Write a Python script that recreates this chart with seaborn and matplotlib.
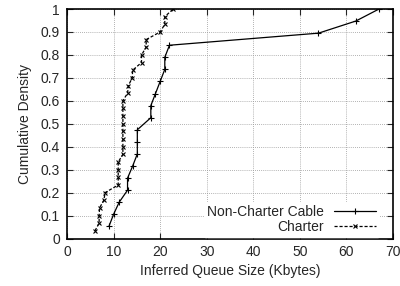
import numpy as np
import pandas as pd
import seaborn as sns
import matplotlib
matplotlib.use("Agg")
import matplotlib.pyplot as plt

# queue sizes (Kbytes), sorted
non_charter = [9.0, 10.0, 11.2, 13.0, 13.0, 14.1, 15.1, 15.1, 15.1, 18.0,
               18.0, 19.0, 20.0, 21.0, 21.0, 22.0, 54.0, 62.0, 67.0]
charter = [6.0, 6.9, 6.9, 7.0, 7.9, 8.2, 11.0, 11.0, 11.0, 11.0,
           12.0, 12.0, 12.0, 12.0, 12.0, 12.0, 12.0, 12.0, 13.0, 13.2,
           14.0, 14.1, 16.0, 16.0, 17.0, 17.0, 20.0, 21.0, 21.0, 22.8]

x_ticks = [0, 10, 20, 30, 40, 50, 60, 70]
y_ticks = [0, 0.1, 0.2, 0.3, 0.4, 0.5, 0.6, 0.7, 0.8, 0.9, 1]
y_labels = ["0", "0.1", "0.2", "0.3", "0.4", "0.5", "0.6", "0.7", "0.8", "0.9", "1"]


def cdf(vals):
    n = len(vals)
    return pd.DataFrame({"x": vals, "y": np.arange(1, n + 1) / n})


sns.set_style("ticks")
plt.rcParams['font.family'] = ['Liberation Sans', 'DejaVu Sans']
plt.rcParams['font.size'] = 10

fig = plt.figure(figsize=(4, 2.86), dpi=100)
ax = fig.add_axes([67 / 400, 1 - 238.5 / 286, 326 / 400, 229.5 / 286])

nc = cdf(non_charter)
ch = cdf(charter)
sns.lineplot(data=nc, x="x", y="y", estimator=None, sort=False, ax=ax,
             color="black", lw=0.9, marker="+", markersize=4, mew=0.8,
             mec="black", label="Non-Charter Cable")
sns.lineplot(data=ch, x="x", y="y", estimator=None, sort=False, ax=ax,
             color="black", lw=0.9, ls=(0, (2.5, 1.5)), marker="x",
             markersize=3.5, mew=0.8, mec="black", label="Charter")

ax.set_xlim(0, 70)
ax.set_ylim(0, 1)
ax.set_xticks(x_ticks)
ax.set_yticks(y_ticks)
ax.set_yticklabels(y_labels)
ax.grid(True, color="#999999", ls=(0, (1, 1.5)), lw=0.6)
ax.tick_params(direction="in", top=True, right=True, length=4, width=0.8,
               labelsize=10, pad=5)
for s in ax.spines.values():
    s.set_linewidth(1.2)
    s.set_color("black")

ax.set_xlabel("Inferred Queue Size (Kbytes)", fontsize=10, labelpad=3)
ax.set_ylabel("Cumulative Density", fontsize=10, labelpad=6)

leg = ax.legend(loc="lower right", bbox_to_anchor=(0.955, 0.008),
                markerfirst=False, frameon=True, fancybox=False,
                borderpad=0.2, handlelength=3.0, labelspacing=0.05,
                handletextpad=0.7, fontsize=10, borderaxespad=0)
leg.get_frame().set_edgecolor("white")
leg.get_frame().set_facecolor("white")
leg.get_frame().set_alpha(1)
for t in leg.get_texts():
    t.set_ha("right")

fig.savefig("out.png", dpi=100)
